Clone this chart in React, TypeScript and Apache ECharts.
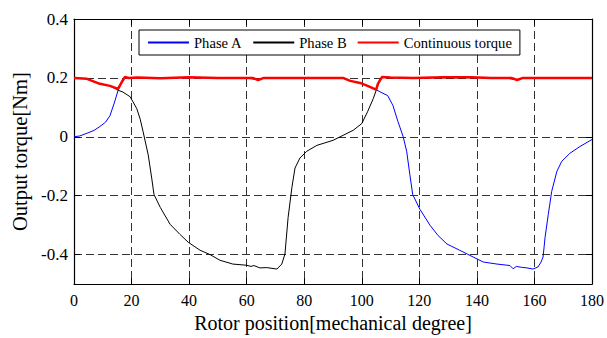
import React, { useEffect, useRef } from "react";
import * as echarts from "echarts";

const yTicks = [-0.4, -0.2, 0, 0.2, 0.4];

const degA = [0, 2, 4.5, 7, 9, 11, 12.5, 14, 15.4, 16.5, 17.5, 20, 30, 40, 50, 60, 64, 66, 80, 93, 96, 99.4, 102, 105, 106.3, 109, 110.8, 112.6, 114.4, 115.6, 116.7, 117.7, 120.2, 123.7, 126.5, 129.6, 134, 138.7, 142.2, 147, 151.5, 152.6, 153.7, 155.5, 157.4, 159.5, 161.2, 162.3, 163, 163.7, 164.8, 166, 167.8, 169.5, 172.3, 175.8, 180];
const valA = [0, 0.003, 0.012, 0.022, 0.035, 0.05, 0.072, 0.115, 0.16, 0.185, 0.2, 0.201, 0.2, 0.201, 0.2, 0.2, 0.193, 0.2, 0.2, 0.2, 0.19, 0.183, 0.173, 0.16, 0.153, 0.14, 0.107, 0.051, 0, -0.049, -0.128, -0.196, -0.246, -0.3, -0.335, -0.364, -0.385, -0.408, -0.425, -0.432, -0.437, -0.448, -0.44, -0.443, -0.445, -0.449, -0.442, -0.425, -0.408, -0.341, -0.264, -0.185, -0.117, -0.083, -0.056, -0.033, -0.009];

const degB = [0, 4.5, 9, 12.5, 15.4, 17, 19.5, 21.8, 23, 24, 25.8, 27, 27.8, 30, 33.4, 36.8, 39.7, 43.8, 47.3, 50.7, 55.2, 60, 61.5, 62.5, 64.6, 67, 70.5, 72.2, 73.3, 74.4, 75.7, 76.8, 78.5, 80.9, 84.4, 90, 93.5, 97, 100, 102, 104, 105.2, 106.3, 107.5, 110, 120, 130, 140, 150, 154, 156, 170, 180];
const valB = [0.2, 0.197, 0.18, 0.173, 0.158, 0.152, 0.136, 0.096, 0.06, 0.018, -0.062, -0.14, -0.196, -0.24, -0.297, -0.331, -0.358, -0.385, -0.4, -0.419, -0.432, -0.436, -0.44, -0.437, -0.445, -0.444, -0.449, -0.432, -0.398, -0.274, -0.173, -0.106, -0.072, -0.049, -0.029, -0.012, 0.005, 0.022, 0.045, 0.085, 0.13, 0.163, 0.197, 0.203, 0.2, 0.201, 0.2, 0.201, 0.2, 0.193, 0.2, 0.2, 0.2];

const degT = [0, 4.5, 9, 12.5, 15.3, 16.6, 17.7, 19, 22, 30, 40, 50, 62, 64, 66, 80, 93.5, 96, 99.4, 102, 105, 105.6, 107, 110, 118, 128, 138, 145, 152, 154, 156, 170, 180];
const valT = [0.2, 0.197, 0.18, 0.173, 0.163, 0.186, 0.203, 0.2, 0.201, 0.199, 0.202, 0.2, 0.2, 0.193, 0.2, 0.2, 0.2, 0.19, 0.183, 0.173, 0.16, 0.18, 0.203, 0.201, 0.2, 0.202, 0.202, 0.2, 0.2, 0.193, 0.2, 0.2, 0.2];

const zip = (xs: number[], ys: number[]) => xs.map((x, i) => [x, ys[i]]);

const FONT = "'Liberation Serif', 'Times New Roman', serif";

export default function App() {
  const ref = useRef<HTMLDivElement>(null);
  useEffect(() => {
    if (!ref.current) return;
    const chart = echarts.init(ref.current, null, { renderer: "svg" });
    const dashed = { show: true, lineStyle: { color: "#333", type: [8, 4] as any, width: 1 } };
    const axisLine = { show: true, onZero: false, lineStyle: { color: "#000", width: 1.2 } };
    const baseX = {
      type: "value" as const,
      min: 0,
      max: 180,
      interval: 20,
      axisLine,
      axisTick: { show: true, inside: true, length: 6, lineStyle: { color: "#000" } },
    };
    const baseY = {
      type: "value" as const,
      min: -0.5,
      max: 0.4,
      axisLine,
      axisTick: { show: true, inside: true, length: 6, customValues: yTicks, lineStyle: { color: "#000" } },
    };
    chart.setOption({
      animation: false,
      backgroundColor: "#fff",
      textStyle: { fontFamily: FONT },
      grid: { left: 74, right: 15, top: 19, bottom: 49, containLabel: false },
      legend: {
        left: 139,
        top: 30,
        itemWidth: 41,
        itemHeight: 10,
        itemGap: 10,
        padding: [5, 8, 5, 8],
        borderColor: "#000",
        borderWidth: 1,
        backgroundColor: "#fff",
        itemStyle: { opacity: 0 },
        textStyle: { fontFamily: FONT, fontSize: 14.6, color: "#000" },
        data: ["Phase A", "Phase B", "Continuous torque"],
      },
      xAxis: [
        {
          ...baseX,
          position: "bottom",
          name: "Rotor position[mechanical degree]",
          nameLocation: "middle",
          nameGap: 27,
          nameTextStyle: { fontFamily: FONT, fontSize: 20, color: "#000" },
          axisLabel: { fontFamily: FONT, fontSize: 16, color: "#000", margin: 8 },
          splitLine: dashed,
        },
        {
          ...baseX,
          position: "top",
          axisLabel: { show: false },
          splitLine: { show: false },
        },
      ],
      yAxis: [
        {
          ...baseY,
          position: "left",
          name: "Output torque[Nm]",
          nameLocation: "middle",
          nameGap: 42,
          nameTextStyle: { fontFamily: FONT, fontSize: 20.5, color: "#000" },
          axisLabel: {
            fontFamily: FONT,
            fontSize: 17,
            color: "#000",
            margin: 6,
            customValues: yTicks,
            formatter: (v: number) => (Math.abs(v) < 1e-9 ? "0" : String(Math.round(v * 10) / 10)),
          },
          splitLine: dashed,
        },
        {
          ...baseY,
          position: "right",
          axisLabel: { show: false },
          splitLine: { show: false },
        },
      ],
      series: [
        {
          name: "Phase A",
          type: "line",
          symbol: "none",
          data: zip(degA, valA),
          lineStyle: { color: "#0000ff", width: 1 },
          itemStyle: { color: "#0000ff" },
          z: 2,
        },
        {
          name: "Phase B",
          type: "line",
          symbol: "none",
          data: zip(degB, valB),
          lineStyle: { color: "#000", width: 1 },
          itemStyle: { color: "#000" },
          z: 3,
        },
        {
          name: "Continuous torque",
          type: "line",
          symbol: "none",
          data: zip(degT, valT),
          lineStyle: { color: "#ff0000", width: 2.5 },
          itemStyle: { color: "#ff0000" },
          z: 4,
        },
      ],
    });
    return () => chart.dispose();
  }, []);
  return <div ref={ref} style={{ width: 607, height: 338, position: "absolute", left: 0, top: 0 }} />;
}
